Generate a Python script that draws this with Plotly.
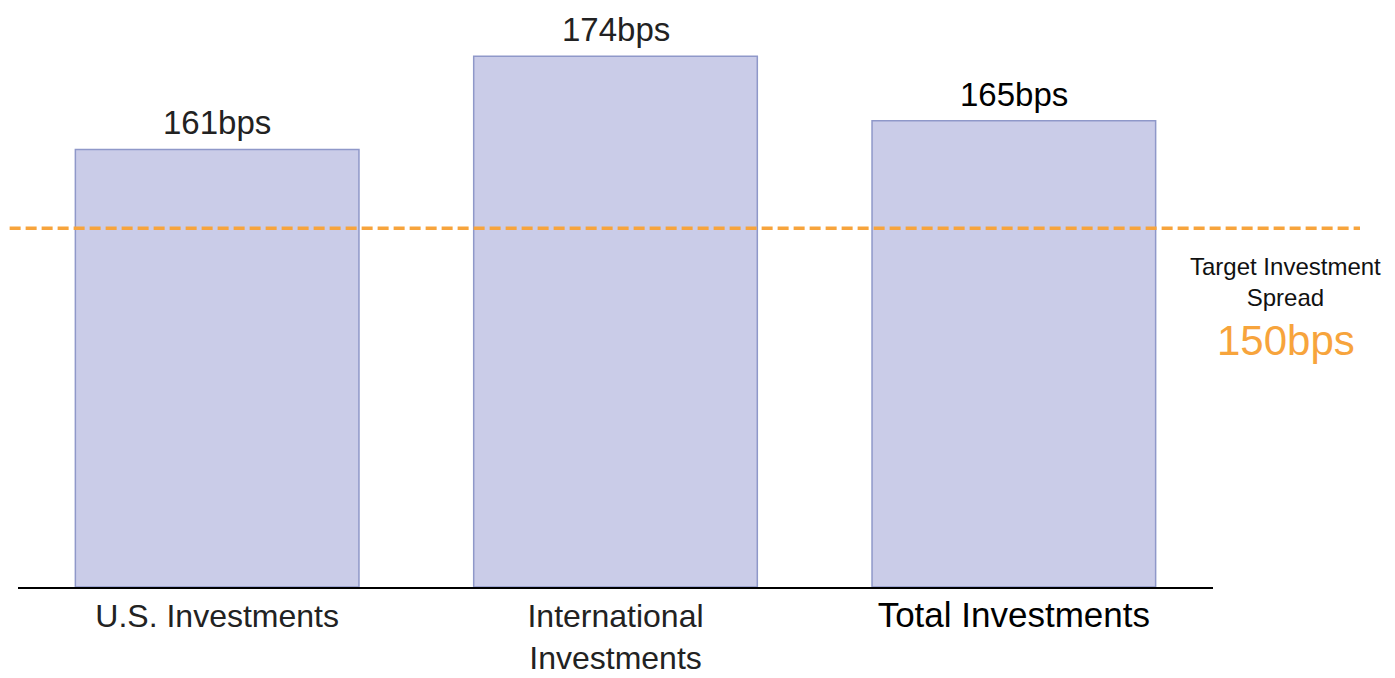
import plotly.graph_objects as go

categories = ["U.S. Investments", "International<br>Investments", "Total Investments"]
tick_labels = [
    "U.S. Investments",
    "International<br>Investments",
    "<span style='font-size:35px;fill:#000'>Total Investments</span>",
]
spreads = [161, 174, 165]
spread_labels = ["161bps", "174bps", "165bps"]
axis_base = 100
target_spread = 150
target_label = "150bps"

BAR_FILL = "#CACCE8"
BAR_LINE = "#8F98C9"
ORANGE = "#F7A43C"
FONT = "Liberation Sans, Arial, sans-serif"

fig = go.Figure()
fig.add_trace(go.Bar(
    x=categories,
    y=[v - axis_base for v in spreads],
    base=axis_base,
    marker=dict(color=BAR_FILL, line=dict(color=BAR_LINE, width=1.5)),
    showlegend=False,
))

# value labels above the bars
for cat, val, lab in zip(categories, spreads, spread_labels):
    fig.add_annotation(
        x=cat, y=val, yanchor="bottom", yshift=6, text=lab, showarrow=False,
        font=dict(size=33, color="#000" if cat.startswith("Total") else "#222", family=FONT),
    )

fig.add_shape(
    type="line", xref="paper", yref="y",
    x0=-0.007, x1=1.123, y0=target_spread, y1=target_spread,
    line=dict(color=ORANGE, width=3.5, dash="11px,5px"),
)
fig.add_annotation(
    xref="paper", yref="paper", x=1.061, y=0.535, xanchor="center", yanchor="middle",
    text="Target Investment<br>Spread", showarrow=False,
    font=dict(size=24, color="#111", family=FONT), align="center",
)
fig.add_annotation(
    xref="paper", yref="paper", x=1.061, y=0.432, xanchor="center", yanchor="middle",
    text=target_label, showarrow=False,
    font=dict(size=42, color=ORANGE, family=FONT),
)

fig.update_layout(
    width=1395, height=678,
    margin=dict(l=10, r=190, t=8, b=99),
    plot_bgcolor="white", paper_bgcolor="white",
    bargap=0.288,
    font=dict(family=FONT, color="#222"),
    xaxis=dict(
        showline=True, linecolor="black", linewidth=2,
        tickmode="array", tickvals=categories, ticktext=tick_labels,
        tickfont=dict(size=32, color="#222"), ticks="", showgrid=False,
    ),
    yaxis=dict(range=[axis_base, 179.6], visible=False, showgrid=False),
)

fig.write_html("out.html")
